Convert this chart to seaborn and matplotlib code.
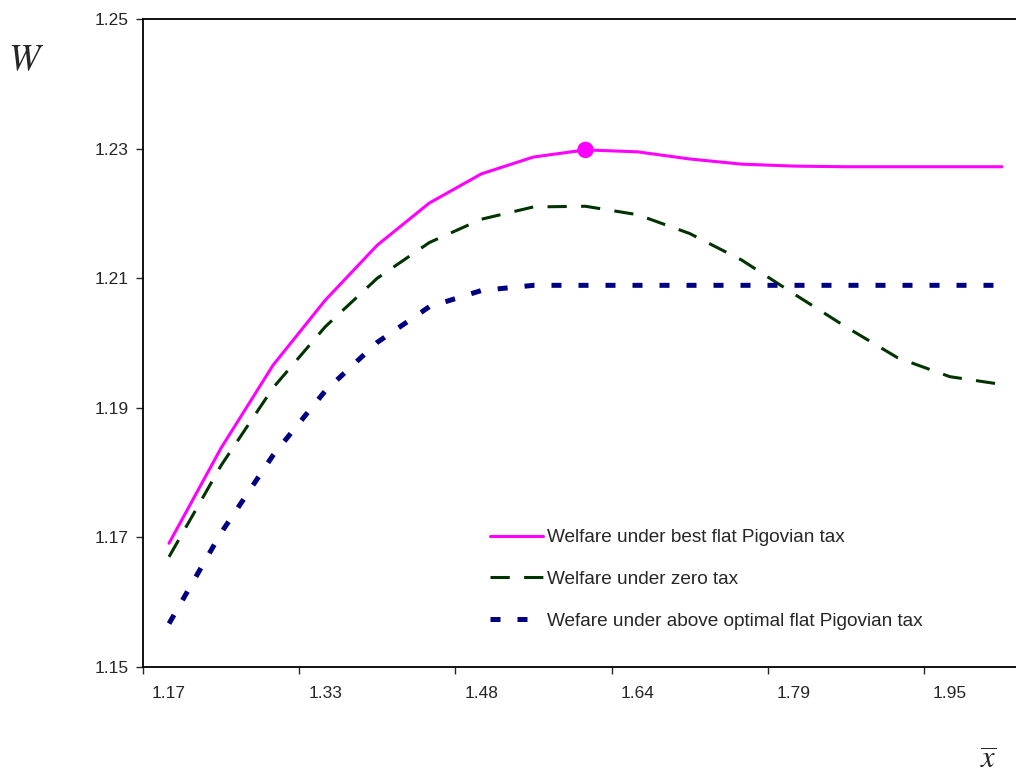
import numpy as np
import pandas as pd
import seaborn as sns
import matplotlib.pyplot as plt
from matplotlib.ticker import FixedLocator, FixedFormatter, NullFormatter

# x-bar categories (only every third one is labelled on the axis)
xbar = ['1.17', '1.22', '1.27', '1.33', '1.38', '1.43', '1.48', '1.53', '1.59',
        '1.64', '1.69', '1.74', '1.79', '1.84', '1.90', '1.95', '2.00']
xbar_labels = ['1.17', '1.33', '1.48', '1.64', '1.79', '1.95']

# welfare series
w_best = [1.1691, 1.1838, 1.1966, 1.2066, 1.2151, 1.2216, 1.2261, 1.2287, 1.2298,
          1.2295, 1.2284, 1.2276, 1.2273, 1.2272, 1.2272, 1.2272, 1.2272]
w_zero = [1.1670, 1.1811, 1.1931, 1.2025, 1.2100, 1.2155, 1.2191, 1.2210, 1.2211,
          1.2198, 1.2169, 1.2128, 1.2076, 1.2025, 1.1977, 1.1948, 1.1936]
w_above = [1.1567, 1.1707, 1.1827, 1.1926, 1.2001, 1.2056, 1.2081, 1.2089, 1.2089,
           1.2089, 1.2089, 1.2089, 1.2089, 1.2089, 1.2089, 1.2089, 1.2089]

labels = ['Welfare under best flat Pigovian tax',
          'Welfare under zero tax',
          'Wefare under above optimal flat Pigovian tax']

sns.set_style('ticks')
plt.rcParams['font.family'] = ['Liberation Sans', 'DejaVu Sans']
plt.rcParams['mathtext.fontset'] = 'stix'

df = pd.DataFrame({'xbar': xbar, 'best': w_best, 'zero': w_zero, 'above': w_above})

fig = plt.figure(figsize=(10.16, 7.77), dpi=100)
ax = fig.add_axes([143 / 1016, 110 / 777, 885 / 1016, 648 / 777])

sns.lineplot(data=df, x='xbar', y='best', color='#FF00FF', lw=2.2,
             label=labels[0], ax=ax, sort=False)
sns.lineplot(data=df, x='xbar', y='zero', color='#003300', lw=2.2,
             ls=(0, (6.3, 4.7)), dash_capstyle='butt',
             label=labels[1], ax=ax, sort=False)
sns.lineplot(data=df, x='xbar', y='above', color='#000080', lw=3.6,
             ls=(0, (2.0, 3.4)), dash_capstyle='butt',
             label=labels[2], ax=ax, sort=False)

# mark the peak of the best-tax curve
peak = int(np.argmax(w_best))
sns.scatterplot(x=[xbar[peak]], y=[w_best[peak]], color='#FF00FF', s=140,
                edgecolor='none', ax=ax, zorder=5)

ax.set_ylim(1.15, 1.25)
ax.set_yticks([1.15, 1.17, 1.19, 1.21, 1.23, 1.25])
ax.set_yticklabels(['1.15', '1.17', '1.19', '1.21', '1.23', '1.25'])
ax.set_xlim(-0.5, 16.5)

# ticks between categories, labels on every third category
ax.xaxis.set_major_locator(FixedLocator([-0.5, 2.5, 5.5, 8.5, 11.5, 14.5]))
ax.xaxis.set_major_formatter(NullFormatter())
ax.xaxis.set_minor_locator(FixedLocator([xbar.index(l) for l in xbar_labels]))
ax.xaxis.set_minor_formatter(FixedFormatter(xbar_labels))
ax.tick_params(axis='x', which='major', length=5, width=1, direction='out')
ax.tick_params(axis='x', which='minor', length=0, pad=14, labelsize=12.5)
ax.tick_params(axis='y', length=5, width=1, direction='out', pad=5.5, labelsize=12.5)

ax.set_xlabel('')
ax.set_ylabel('')
for s in ax.spines.values():
    s.set_linewidth(1.3)
    s.set_color('black')

ax.legend(loc='upper left', bbox_to_anchor=(490 / 1016, 1 - 529 / 777),
          bbox_transform=fig.transFigure, frameon=False, fontsize=13.7,
          handlelength=2.8, handletextpad=0.2, labelspacing=1.28,
          borderpad=0, borderaxespad=0)

fig.text(26 / 1016, 1 - 60 / 777, '$W$', fontsize=27, ha='center', va='center')
fig.text(988 / 1016, 1 / 777, r'$\overline{x}$', fontsize=22, ha='center', va='bottom')

fig.savefig('out.png', dpi=100)
